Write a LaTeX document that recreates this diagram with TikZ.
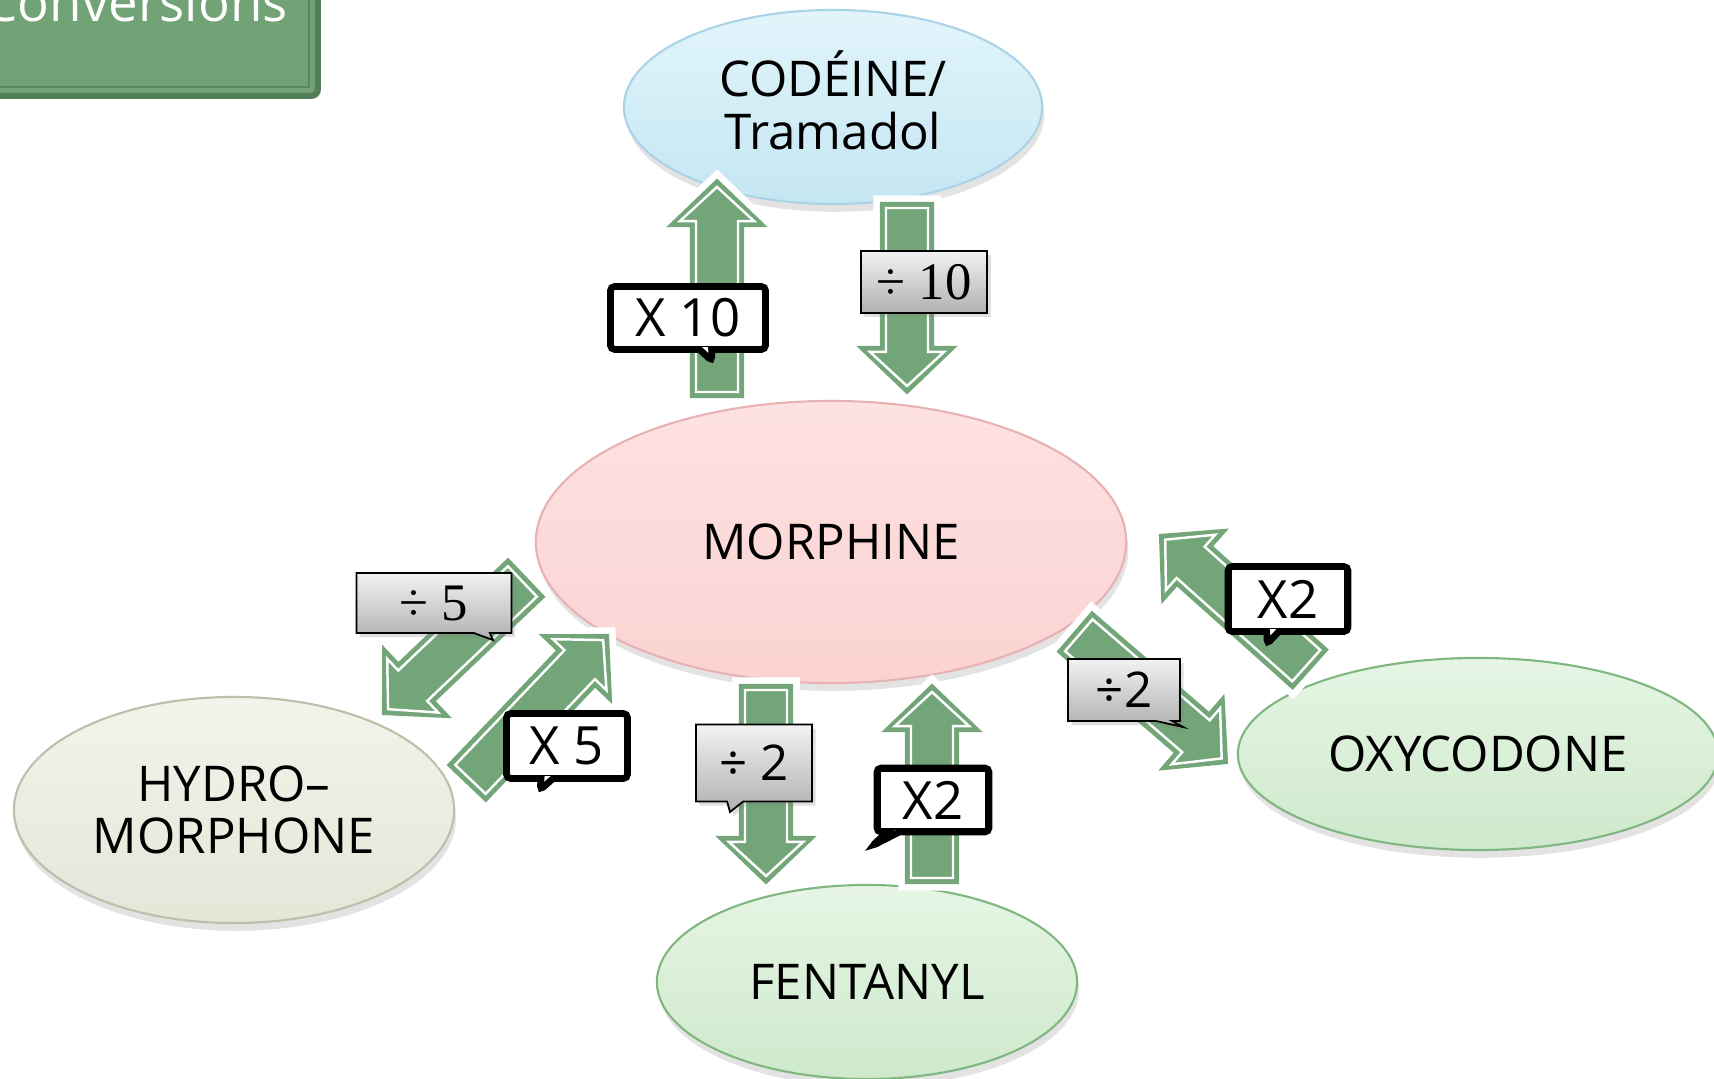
\documentclass[tikz,border=0pt]{standalone}
\usepackage{fontspec}
\newfontfamily\labelfont{Open Sans}
\newfontfamily\factorfont{Liberation Serif}
\usetikzlibrary{shapes.geometric,shapes.callouts,shadows,calc}

\definecolor{arrowgreen}{RGB}{114,165,119}
\definecolor{titlegreen}{RGB}{114,163,118}
\definecolor{titleedge}{RGB}{84,125,89}
\definecolor{codtop}{RGB}{226,245,251}
\definecolor{codbot}{RGB}{196,230,242}
\definecolor{codedge}{RGB}{170,212,230}
\definecolor{mortop}{RGB}{254,226,226}
\definecolor{morbot}{RGB}{251,210,210}
\definecolor{moredge}{RGB}{232,178,178}
\definecolor{hydtop}{RGB}{243,243,234}
\definecolor{hydbot}{RGB}{229,229,216}
\definecolor{hydedge}{RGB}{190,190,170}
\definecolor{grntop}{RGB}{230,245,228}
\definecolor{grnbot}{RGB}{206,233,204}
\definecolor{grnedge}{RGB}{128,183,128}

\tikzset{
  drug/.style={ellipse, line width=0.6pt, inner sep=0pt, align=center,
    font=\labelfont\fontsize{14}{15}\selectfont,
    drop shadow={opacity=0.22, shadow xshift=0.6pt, shadow yshift=-2.2pt}},
  multbox/.style={rectangle callout, fill=white, draw=black, line width=1.9pt,
    rounded corners=1.2pt, inner sep=0pt, callout pointer width=0.12cm,
    font=\labelfont\fontsize{15}{18}\selectfont},
  divbox/.style={rectangle, draw=black, line width=0.5pt, top color=gray!10,
    bottom color=gray!62, inner sep=0pt, callout pointer width=0.16cm,
    drop shadow={opacity=0.25, shadow xshift=1pt, shadow yshift=-1.2pt}},
  arrowhalo/.style={draw=white, fill=white, line width=4.4pt, line join=miter,
    drop shadow={opacity=0.3, shadow xshift=1pt, shadow yshift=-1.2pt}},
  arrowbody/.style={fill=arrowgreen, draw=arrowgreen, line width=0.6pt, line join=miter},
  arrowline/.style={draw=white, line width=0.7pt, line join=miter}
}

% block arrow outline: style, tail, tip, shaft half width, head half width, head length
\newcommand{\arrowpoly}[6]{%
  \coordinate (ac) at ($(#3)!#6!(#2)$);
  \path[#1] ($(#2)!#4!90:(#3)$) -- ($(ac)!#4!90:(#3)$) -- ($(ac)!#5!90:(#3)$) -- (#3)
    -- ($(ac)!#5!-90:(#3)$) -- ($(ac)!#4!-90:(#3)$) -- ($(#2)!#4!-90:(#3)$) -- cycle;
}
\newcommand{\blockarrow}[2]{%
  \coordinate (bti) at ($(#1)!0.05cm!(#2)$);
  \coordinate (bhi) at ($(#2)!0.07cm!(#1)$);
  \arrowpoly{arrowhalo}{#1}{#2}{0.26cm}{0.48cm}{0.46cm}
  \arrowpoly{arrowbody}{#1}{#2}{0.26cm}{0.48cm}{0.46cm}
  \arrowpoly{arrowline}{bti}{bhi}{0.21cm}{0.37cm}{0.34cm}
}

\begin{document}
\begin{tikzpicture}[x=0.01cm, y=-0.01cm]
\useasboundingbox (0,0) rectangle (1714,1079);
\clip (0,0) rectangle (1714,1079);

% ===== title tab =====
\draw[fill=titlegreen, draw=titleedge, line width=1.7pt, rounded corners=2pt,
  drop shadow={opacity=0.2, shadow xshift=0.8pt, shadow yshift=-0.8pt}]
  (-30,-30) rectangle (318,96);
\draw[titleedge!75!titlegreen, line width=0.6pt] (-30,-30) rectangle (309,87);
\node[anchor=base west, text=white, inner sep=0pt,
  font=\labelfont\fontsize{15}{18}\selectfont] (title) at (-16,22) {Conversions};

% ===== drugs =====
\node[drug, minimum width=4.18cm, minimum height=1.94cm, top color=codtop,
  bottom color=codbot, draw=codedge] (codeine) at (833,107) {};
\node[align=center, font=\labelfont\fontsize{14}{15}\selectfont] (codtext)
  at (833,100) {CODÉINE/\\Tramadol};
\node[drug, minimum width=5.90cm, minimum height=2.82cm, top color=mortop,
  bottom color=morbot, draw=moredge] (morphine) at (831,542) {MORPHINE};
\node[drug, minimum width=4.40cm, minimum height=2.26cm, top color=hydtop,
  bottom color=hydbot, draw=hydedge] (hydro) at (234,810) {HYDRO–\\MORPHONE};
\node[drug, minimum width=4.20cm, minimum height=1.94cm, top color=grntop,
  bottom color=grnbot, draw=grnedge] (fentanyl) at (867,982) {FENTANYL};
\node[drug, minimum width=4.80cm, minimum height=1.92cm, top color=grntop,
  bottom color=grnbot, draw=grnedge] (oxy) at (1478,754) {OXYCODONE};

% ===== arrows =====
\coordinate (x10-s) at (717,397);  \coordinate (x10-e) at (717,180);
\coordinate (d10-s) at (907,203);  \coordinate (d10-e) at (907,393);
\coordinate (d5-s) at (526,578);   \coordinate (d5-e) at (383,714);
\coordinate (x5-s) at (467,783);   \coordinate (x5-e) at (608,635);
\coordinate (d2f-s) at (766,685);  \coordinate (d2f-e) at (766,883);
\coordinate (x2f-s) at (932,883);  \coordinate (x2f-e) at (932,685);
\coordinate (d2o-s) at (1075,632); \coordinate (d2o-e) at (1227,763);
\coordinate (x2o-s) at (1310,669); \coordinate (x2o-e) at (1160,535);

\blockarrow{x10-s}{x10-e}
\blockarrow{d10-s}{d10-e}
\blockarrow{d5-s}{d5-e}
\blockarrow{x5-s}{x5-e}
\blockarrow{d2f-s}{d2f-e}
\blockarrow{x2f-s}{x2f-e}
\blockarrow{d2o-s}{d2o-e}
\blockarrow{x2o-s}{x2o-e}

% ===== factors =====
\node[multbox, minimum width=1.55cm, minimum height=0.63cm,
  callout absolute pointer={(712,361)}] (x10) at (688,318) {X 10};
\node[multbox, minimum width=1.21cm, minimum height=0.65cm,
  callout absolute pointer={(540,790)}] (x5) at (567,746) {X 5};
\node[multbox, minimum width=1.12cm, minimum height=0.64cm,
  callout absolute pointer={(872,846)}] (x2f) at (933,800) {X2};
\node[multbox, minimum width=1.20cm, minimum height=0.65cm,
  callout absolute pointer={(1267,644)}] (x2o) at (1288,599) {X2};
\foreach \n in {x10,x5,x2f,x2o}
  \draw[line width=0.5pt] ([shift={(1.8pt,1.8pt)}]\n.south west)
    rectangle ([shift={(-1.8pt,-1.8pt)}]\n.north east);

\node[divbox, minimum width=1.26cm, minimum height=0.62cm,
  font=\factorfont\fontsize{15}{17}\selectfont] (d10) at (924,282) {÷ 10};
\node[divbox, rectangle callout, minimum width=1.55cm, minimum height=0.60cm,
  callout absolute pointer={(493,640)}, font=\factorfont\fontsize{15}{17}\selectfont]
  (d5) at (434,603) {÷ 5};
\node[divbox, rectangle callout, minimum width=1.16cm, minimum height=0.77cm,
  callout absolute pointer={(730,812)}, font=\labelfont\fontsize{14}{16}\selectfont]
  (d2f) at (754,763) {÷ 2};
\node[divbox, rectangle callout, minimum width=1.12cm, minimum height=0.62cm,
  callout absolute pointer={(1183,727)}, font=\labelfont\fontsize{14}{16}\selectfont]
  (d2o) at (1124,690) {÷2};

\end{tikzpicture}
\end{document}
